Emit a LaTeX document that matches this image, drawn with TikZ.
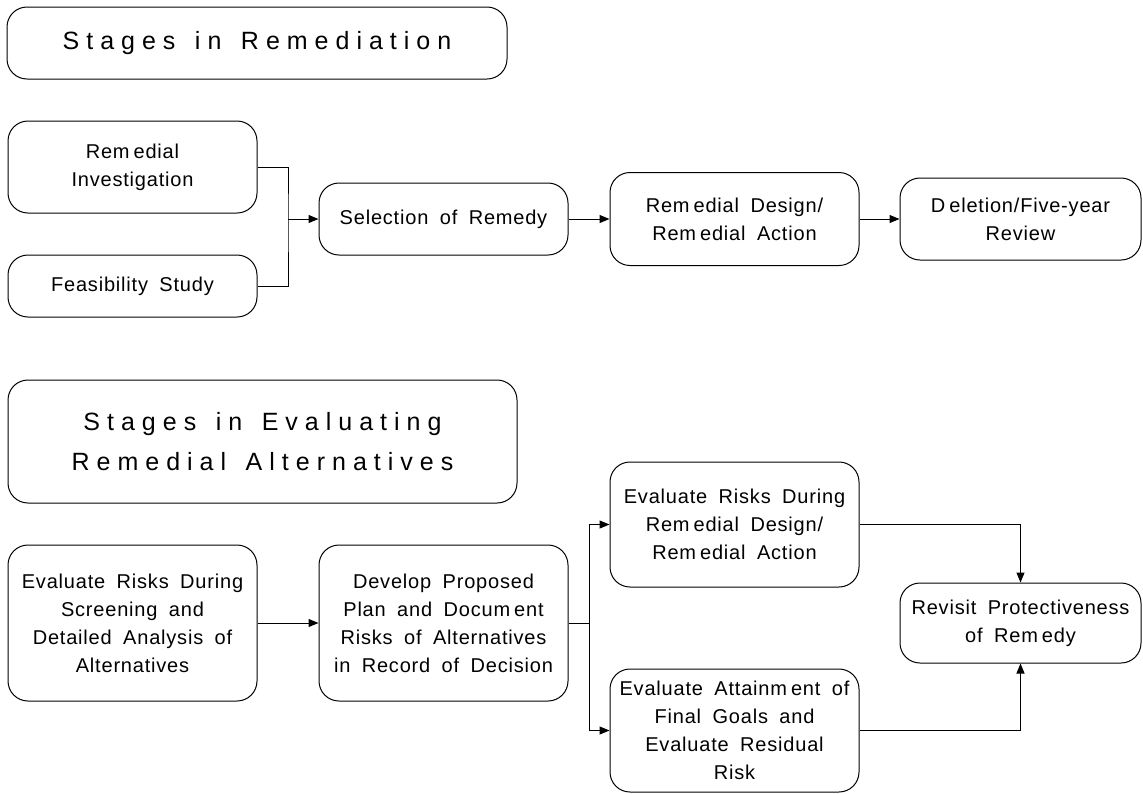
\documentclass[tikz,border=0pt]{standalone}
\usepackage{fontspec}
\setmainfont{Liberation Sans}[LetterSpace=4,WordSpace=1.8]
\newfontfamily\titlefont{Liberation Sans}[LetterSpace=28,WordSpace=1.4]
\usetikzlibrary{arrows.meta}
\newcommand\gk{\kern4pt\relax}
\tikzset{
  box/.style={draw, line width=1pt, rounded corners=20pt, align=center, inner sep=0pt,
    font=\fontsize{20}{28}\selectfont},
  titlebox/.style={box, font=\titlefont\fontsize{25}{40}\selectfont},
  arr/.style={-{Triangle[length=10pt,width=8pt]}},
  link/.style={line width=1pt}
}
\begin{document}
\begin{tikzpicture}[x=1pt,y=-1pt]
\useasboundingbox (0,0) rectangle (1143,793);

% --- upper chart: stages in remediation
\node[titlebox, minimum width=500pt, minimum height=72pt] (t1) at (257,43) {Stages in Remediation};
\node[box, minimum width=249pt, minimum height=92pt] (ri) at (132.5,167) {Rem\gk edial\\Investigation};
\node[box, minimum width=249pt, minimum height=62pt] (fs) at (132.5,286) {Feasibility Study};
\node[box, minimum width=249pt, minimum height=72pt] (sel) at (443.5,219) {Selection of Remedy};
\node[box, minimum width=249pt, minimum height=93pt] (rdra) at (734.5,219) {Rem\gk edial Design/\\Rem\gk edial Action};
\node[box, minimum width=241pt, minimum height=82pt] (del) at (1020.5,219) {D\gk eletion/Five-year\\Review};

\coordinate (j1) at (288,219);
\draw[link] (ri.east) -| (j1) |- (fs.east);
\draw[link, arr] (j1) -- (sel.west);
\draw[link, arr] (sel.east) -- (rdra.west);
\draw[link, arr] (rdra.east) -- (del.west);

% --- lower chart: evaluating remedial alternatives
\node[titlebox, minimum width=509pt, minimum height=123pt] (t2) at (262.5,441.5) {Stages in Evaluating\\Remedial Alternatives};
\node[box, minimum width=249pt, minimum height=156pt] (ers) at (132.5,623) {Evaluate Risks During\\Screening and\\Detailed Analysis of\\Alternatives};
\node[box, minimum width=249pt, minimum height=156pt] (dev) at (443.5,623) {Develop Proposed\\Plan and Docum\gk ent\\Risks of Alternatives\\in Record of Decision};
\node[box, minimum width=249pt, minimum height=125pt] (erd) at (734.5,524.5) {Evaluate Risks During\\Rem\gk edial Design/\\Rem\gk edial Action};
\node[box, minimum width=249pt, minimum height=123pt] (eat) at (734.5,730.5) {Evaluate Attainm\gk ent of\\Final Goals and\\Evaluate Residual\\Risk};
\node[box, minimum width=241pt, minimum height=80pt] (rev) at (1020.5,623) {Revisit Protectiveness\\of Rem\gk edy};

\coordinate (j2) at (589,623);
\draw[link, arr] (ers.east) -- (dev.west);
\draw[link] (dev.east) -- (j2);
\draw[link, arr] (j2) |- (erd.west);
\draw[link, arr] (j2) |- (eat.west);
\draw[link, arr] (erd.east) -| (rev.north);
\draw[link, arr] (eat.east) -| (rev.south);
\end{tikzpicture}
\end{document}
